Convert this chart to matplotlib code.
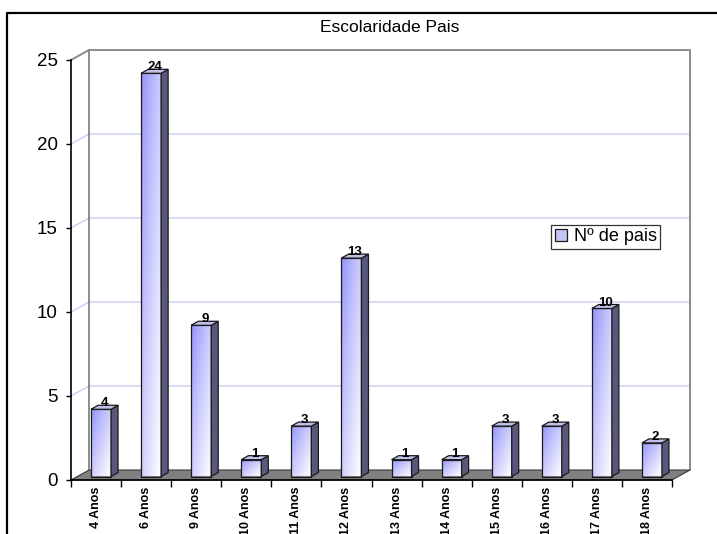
import numpy as np
import matplotlib
matplotlib.use("Agg")
import matplotlib.pyplot as plt
from matplotlib.patches import Polygon, Rectangle, Patch
from matplotlib.lines import Line2D

# ---- data ----
categories = ["4 Anos", "6 Anos", "9 Anos", "10 Anos", "11 Anos", "12 Anos",
              "13 Anos", "14 Anos", "15 Anos", "16 Anos", "17 Anos", "18 Anos"]
values = [4, 24, 9, 1, 3, 13, 1, 1, 3, 3, 10, 2]
y_ticks = [0, 5, 10, 15, 20, 25]
grid_levels = [5, 10, 15, 20]
chart_title = "Escolaridade Pais"
series_name = "Nº de pais"

plt.rcParams["font.family"] = ["Liberation Sans", "DejaVu Sans"]

W, H = 717, 534
fig = plt.figure(figsize=(W / 100, H / 100), dpi=100)
fig.patch.set_facecolor("white")

# front plane of the 3D box
ax = fig.add_axes([71 / W, 54 / H, 601 / W, 420 / H])
n = len(categories)
xmin, xmax = -0.5, n - 0.5
ymin, ymax = 0, y_ticks[-1]
ax.set_xlim(xmin, xmax)
ax.set_ylim(ymin, ymax)
ax.patch.set_visible(False)

# pixel -> data unit converters
ux = 601 / (xmax - xmin)
uy = 420 / (ymax - ymin)
def dxu(p):
    return p / ux
def dyu(p):
    return p / uy

# depth of the box (walls) and of the bars
DX, DY = dxu(18), dyu(10)
BW = dxu(20)                # bar front width
SX, SY = dxu(5), dyu(3.5)   # bar placement inside the depth
BDX, BDY = dxu(7), dyu(4)   # bar depth

wall_col = "#8c8c8c"
grid_col = "#c6c6f6"

# floor
floor = Polygon([(xmin, 0), (xmax, 0), (xmax + DX, DY), (xmin + DX, DY)],
                closed=True, facecolor="#808080", edgecolor="#3a3a3a",
                lw=0.8, clip_on=False, zorder=1)
ax.add_patch(floor)

# gridlines on back wall + left wall
for g in grid_levels:
    ax.plot([xmin, xmin + DX, xmax + DX], [g, g + DY, g + DY],
            color=grid_col, lw=0.9, clip_on=False, zorder=0.5)

# wall edges
ax.plot([xmin, xmin + DX, xmax + DX, xmax + DX], [ymax, ymax + DY, ymax + DY, DY],
        color=wall_col, lw=1.4, clip_on=False, zorder=0.6)
ax.plot([xmin + DX, xmin + DX], [DY, ymax + DY],
        color=wall_col, lw=1.4, clip_on=False, zorder=0.6)

# gradient for the bar front faces
gn = 80
u = np.linspace(0, 1, gn)[None, :]
v = np.linspace(0, 1, gn)[:, None]
t = np.clip((u + v) / 2.0, 0, 1) ** 0.85
c0 = np.array([0x8e, 0x8e, 0xfc]) / 255.0
c1 = np.array([1.0, 1.0, 1.0])
grad = c0[None, None, :] * (1 - t[..., None]) + c1[None, None, :] * t[..., None]

for i, val in enumerate(values):
    bx0 = i - BW / 2 + SX
    bx1 = bx0 + BW
    by0 = SY
    by1 = val + SY
    z = 3 + i * 0.01
    ax.imshow(grad, extent=[bx0, bx1, by0, by1], aspect="auto",
              interpolation="bilinear", zorder=z)
    ax.add_patch(Rectangle((bx0, by0), BW, by1 - by0, fill=False,
                           edgecolor="#1a1a1a", lw=0.9, zorder=z + 0.001))
    ax.add_patch(Polygon([(bx1, by0), (bx1 + BDX, by0 + BDY),
                          (bx1 + BDX, by1 + BDY), (bx1, by1)],
                         closed=True, facecolor="#58587c", edgecolor="#1a1a1a",
                         lw=0.9, zorder=z + 0.002))
    ax.add_patch(Polygon([(bx0, by1), (bx1, by1),
                          (bx1 + BDX, by1 + BDY), (bx0 + BDX, by1 + BDY)],
                         closed=True, facecolor="#c0c0ec", edgecolor="#1a1a1a",
                         lw=0.9, zorder=z + 0.003))
    ax.text(bx0 + BW / 2 + BDX / 2, by1 + BDY - dyu(1), str(val),
            ha="center", va="baseline", fontsize=9.5, fontweight="bold",
            color="black", zorder=10)

ax.set_xlim(xmin, xmax)
ax.set_ylim(ymin, ymax)

# axes lines and ticks
for s in ("top", "right"):
    ax.spines[s].set_visible(False)
for s in ("left", "bottom"):
    ax.spines[s].set_color("black")
    ax.spines[s].set_linewidth(1.2)
    ax.spines[s].set_zorder(20)

ax.set_yticks(y_ticks)
ax.set_yticklabels([str(t_) for t_ in y_ticks])
ax.tick_params(axis="y", length=3.6, width=1, pad=6.0, labelsize=13.5,
               color="black", labelcolor="black")

ax.set_xticks(np.arange(n))
ax.set_xticklabels(categories, rotation=90, fontsize=9, fontweight="bold")
ax.set_xticks(np.arange(n + 1) - 0.5, minor=True)
ax.tick_params(axis="x", which="major", length=0, pad=5.0)
ax.tick_params(axis="x", which="minor", length=5, width=1, color="black")

# title
fig.text(389.5 / W, 1 - 27 / H, chart_title, ha="center", va="center",
         fontsize=12.5, color="black")

# legend
handle = Patch(facecolor="#c4c4f6", edgecolor="#1a1a1a", lw=0.9)
leg = fig.legend([handle], [series_name], loc="lower left",
                 bbox_to_anchor=(551 / W, 1 - 249 / H),
                 bbox_transform=fig.transFigure, fontsize=13,
                 frameon=True, fancybox=False, borderpad=0.2,
                 handlelength=0.7, handleheight=0.7, handletextpad=0.35,
                 borderaxespad=0)
leg.get_frame().set_edgecolor("black")
leg.get_frame().set_linewidth(0.9)

# outer chart frame
fig.add_artist(Line2D([7 / W, 7 / W, 1.0], [0.0, 1 - 13 / H, 1 - 13 / H],
                      transform=fig.transFigure, color="black", lw=1.6))

fig.savefig("out.png", dpi=100, facecolor="white")
